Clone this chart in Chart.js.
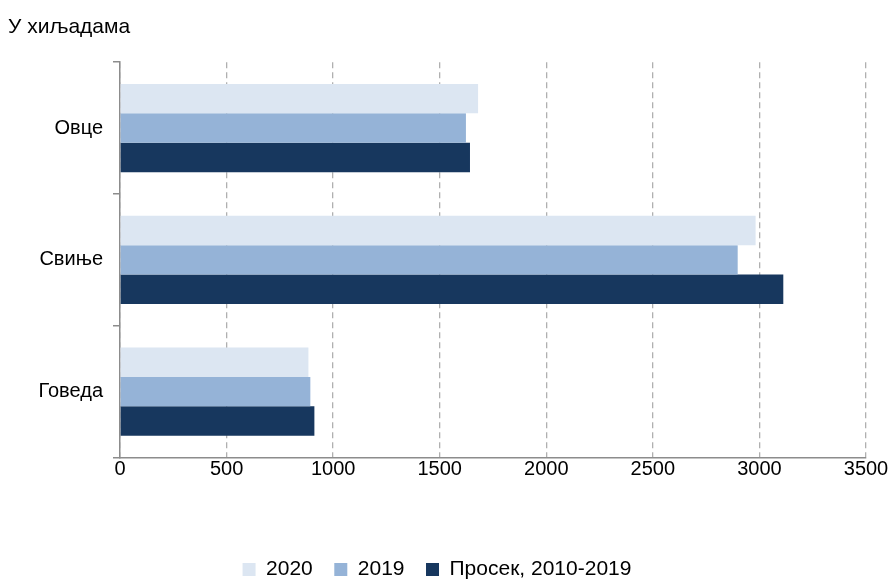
<!DOCTYPE html>
<html>
<head>
<meta charset="utf-8">
<script src="https://cdn.jsdelivr.net/npm/chart.js@4/dist/chart.umd.min.js"></script>
<style>
    html, body { margin: 0; padding: 0; background: #fff; overflow: hidden; }
    #wrap { width: 890px; height: 590px; }
</style>
</head>
<body>
<div id="wrap"><canvas id="chartCanvas"></canvas></div>
<script>
// Data (thousands of head)
const categories = ['Овце', 'Свиње', 'Говеда'];
const values2020 = [1680, 2982, 884];
const values2019 = [1623, 2898, 893];
const valuesAvg = [1642, 3112, 912];
const seriesNames = ['2020', '2019', 'Просек, 2010-2019'];
const xTicks = [0, 500, 1000, 1500, 2000, 2500, 3000, 3500];

const fontFamily = '"Liberation Sans", Arial, sans-serif';

new Chart(document.getElementById('chartCanvas'), {
    type: 'bar',
    data: {
        labels: categories,
        datasets: [
            { label: seriesNames[0], data: values2020, backgroundColor: '#dce6f2' },
            { label: seriesNames[1], data: values2019, backgroundColor: '#95b3d7' },
            { label: seriesNames[2], data: valuesAvg, backgroundColor: '#17375e' }
        ]
    },
    options: {
        indexAxis: 'y',
        responsive: true,
        maintainAspectRatio: false,
        animation: false,
        datasets: {
            bar: { categoryPercentage: 0.67, barPercentage: 1.0 }
        },
        layout: { padding: { top: 0, right: 24, left: 8, bottom: 0 } },
        plugins: {
            title: {
                display: true,
                text: 'У хиљадама',
                align: 'start',
                color: '#000',
                font: { family: fontFamily, size: 21, weight: 'normal' },
                padding: { top: 15, bottom: 22 }
            },
            legend: {
                position: 'bottom',
                labels: {
                    color: '#000',
                    font: { family: fontFamily, size: 21 },
                    boxWidth: 13,
                    boxHeight: 13,
                    padding: 21.5
                }
            },
            tooltip: { enabled: false }
        },
        scales: {
            x: {
                min: 0,
                max: 3500,
                afterBuildTicks: function (scale) {
                    scale.ticks = xTicks.map(v => ({ value: v }));
                },
                afterFit: function (scale) { scale.height = 80; },
                grid: {
                    color: '#b0b0b0',
                    lineWidth: 1.3,
                    drawTicks: false
                },
                border: { display: true, color: '#8c8c8c', width: 1.5, dash: [6, 4] },
                ticks: {
                    color: '#000',
                    font: { family: fontFamily, size: 20 },
                    padding: 0,
                    callback: function (value) { return String(value); }
                }
            },
            y: {
                afterFit: function (scale) { scale.width = 112; },
                grid: {
                    offset: true,
                    drawOnChartArea: false,
                    drawTicks: true,
                    tickLength: 7,
                    color: '#8c8c8c',
                    lineWidth: 1.5
                },
                border: { display: true, color: '#8c8c8c', width: 1.5 },
                ticks: {
                    color: '#000',
                    font: { family: fontFamily, size: 20 },
                    padding: 10
                }
            }
        }
    }
});
</script>
</body>
</html>
